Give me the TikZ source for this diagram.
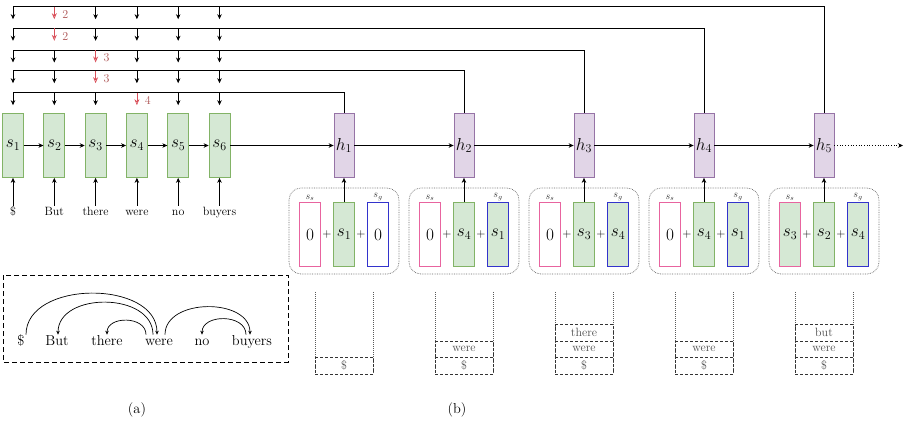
\documentclass[tikz,border=0pt]{standalone}
\usepackage{amsmath,amssymb}
\usetikzlibrary{arrows.meta}

\definecolor{cellgreen}{HTML}{D5E8D4}
\definecolor{greenline}{HTML}{82B366}
\definecolor{cellpurple}{HTML}{E1D5E7}
\definecolor{purpleline}{HTML}{9673A6}
\definecolor{boxpink}{HTML}{E8649F}
\definecolor{boxblue}{HTML}{3333CC}
\definecolor{attred}{HTML}{D9505A}

\begin{document}
\begin{tikzpicture}[x=1pt, y=-1pt, line width=0.7pt,
  >={Stealth[length=5pt,width=4.5pt]},
  sbox/.style={draw=greenline, fill=cellgreen, minimum width=21pt, minimum height=64pt, inner sep=0pt, font=\LARGE},
  hbox/.style={draw=purpleline, fill=cellpurple, minimum width=20pt, minimum height=64pt, inner sep=0pt, font=\LARGE},
  pinkbox/.style={sbox, draw=boxpink, fill=white},
  bluebox/.style={sbox, draw=boxblue, fill=white},
  plus/.style={inner sep=1pt, font=\large},
  slabel/.style={inner sep=1pt, font=\normalsize, text=black!80},
  grp/.style={draw=black!60, densely dotted, rounded corners=12pt, line width=0.7pt},
  cell/.style={draw=black!80, densely dashed, minimum width=58pt, minimum height=16.5pt, inner sep=0pt, text=black!70, font=\large, line width=0.6pt},
  side/.style={draw=black!65, densely dotted, line width=1pt},
  word/.style={anchor=base, inner sep=1pt, text height=7pt, text depth=2pt, font=\large},
  dword/.style={anchor=base, inner sep=1pt, text height=9pt, text depth=2pt, font=\Large},
  dep/.style={-{Stealth[length=4pt,width=3.5pt]}},
  attn/.style={draw=attred, -{Stealth[open,length=6pt,width=5pt]}},
  attnum/.style={inner sep=0pt, text=red!35!gray, font=\large}
]
\useasboundingbox (0,0) rectangle (905,426);

% encoder over the sentence
\foreach \i/\x/\w in {1/13/\$, 2/54.3/But, 3/95.6/there, 4/136.9/were, 5/178.2/no, 6/219.5/buyers} {
  \node[sbox] (s\i) at (\x,145.5) {$s_\i$};
  \node[word] (w\i) at (\x,215) {\w};
  \draw[->, shorten <=1pt] (w\i) -- (s\i);
}
\foreach \i [evaluate=\i as \j using int(\i+1)] in {1,...,5}
  \draw[->] (s\i) -- (s\j);

% decoder states
\foreach \i/\hx in {1/344, 2/464, 3/584, 4/704, 5/824}
  \node[hbox] (h\i) at (\hx,145.5) {$h_\i$};
\draw[->] (s6) -- (h1);
\foreach \i [evaluate=\i as \j using int(\i+1)] in {1,...,4}
  \draw[->] (h\i) -- (h\j);
\coordinate (hend) at (903,145.5);
\draw[->, dotted] (h5) -- (hend);

% attention lines back to the encoder
\foreach \r/\y/\m in {1/92.7/4, 2/70.7/3, 3/50/3, 4/28.3/2, 5/6.7/2} {
  \coordinate (r\r) at (13,\y);
  \draw (h\r.north) |- (r\r);
  \foreach \c in {1,...,6} {
    \pgfmathsetmacro{\sx}{13+41.3*(\c-1)}
    \coordinate (t\r\c) at (\sx,\y);
    \ifnum\c=\m
      \draw[attn] (t\r\c) -- ++(0,12.5);
      \node[attnum] (n\r) at (\sx+11,\y+8) {\m};
    \else
      \draw[->] (t\r\c) -- ++(0,12.5);
    \fi
  }
}

% inputs of each step: s_s + s + s_g
\foreach \i/\hx/\ta/\tb/\tc/\fa/\fc in {1/344/0/s_1/0/white/white, 2/464/0/s_4/s_1/white/cellgreen,
    3/584/0/s_3/s_4/white/cellgreen, 4/704/0/s_4/s_1/white/cellgreen, 5/824/s_3/s_2/s_4/cellgreen/cellgreen} {
  \draw[grp] (\hx-55,188) rectangle (\hx+55,274);
  \node[pinkbox, fill=\fa] (ca\i) at (\hx-34,234.5) {$\ta$};
  \node[sbox] (cb\i) at (\hx,234.5) {$\tb$};
  \node[bluebox, fill=\fc] (cc\i) at (\hx+34,234.5) {$\tc$};
  \node[plus] (pa\i) at (\hx-17,234.5) {$+$};
  \node[plus] (pb\i) at (\hx+17,234.5) {$+$};
  \node[slabel, anchor=south] (la\i) at (ca\i.north) {$s_s$};
  \node[slabel, anchor=south] (lc\i) at (cc\i.north) {$s_g$};
  \draw[->] (cb\i) -- (h\i);
}

% stacks
\foreach \i/\hx in {1/344, 2/464, 3/584, 4/704, 5/824} {
  \draw[side] (\hx-29,292) -- (\hx-29,374);
  \draw[side] (\hx+29,292) -- (\hx+29,374);
  \node[cell] (ka\i) at (\hx,365.75) {\$};
}
\foreach \i/\hx in {2/464, 3/584, 4/704, 5/824}
  \node[cell] (kb\i) at (\hx,349.25) {were};
\node[cell] (kc3) at (584,332.75) {there};
\node[cell] (kc5) at (824,332.75) {but};

% (a) dependency tree
\draw[dash pattern=on 5pt off 3pt] (3,275) rectangle (288,362);
\node[dword] (d0) at (21,345) {\$};
\node[dword] (d1) at (57,345) {But};
\node[dword] (d2) at (107,345) {there};
\node[dword] (d3) at (159,345) {were};
\node[dword] (d4) at (202,345) {no};
\node[dword] (d5) at (252,345) {buyers};
\draw[dep] ([xshift=5pt]d0.north) .. controls +(0,-55) and +(0,-55) .. ([xshift=-2pt]d3.north);
\draw[dep] ([xshift=-6pt]d3.north) .. controls +(0,-43) and +(0,-43) .. ([xshift=1pt]d1.north);
\draw[dep] ([xshift=-13pt]d3.north) .. controls +(0,-19) and +(0,-19) .. (d2.north);
\draw[dep] ([xshift=6pt]d3.north) .. controls +(0,-37) and +(0,-37) .. ([xshift=-2pt]d5.north);
\draw[dep] ([xshift=-6pt]d5.north) .. controls +(0,-21) and +(0,-21) .. (d4.north);

\node[font=\Large] (capa) at (137,410) {(a)};
\node[font=\Large] (capb) at (457,410) {(b)};
\end{tikzpicture}
\end{document}
